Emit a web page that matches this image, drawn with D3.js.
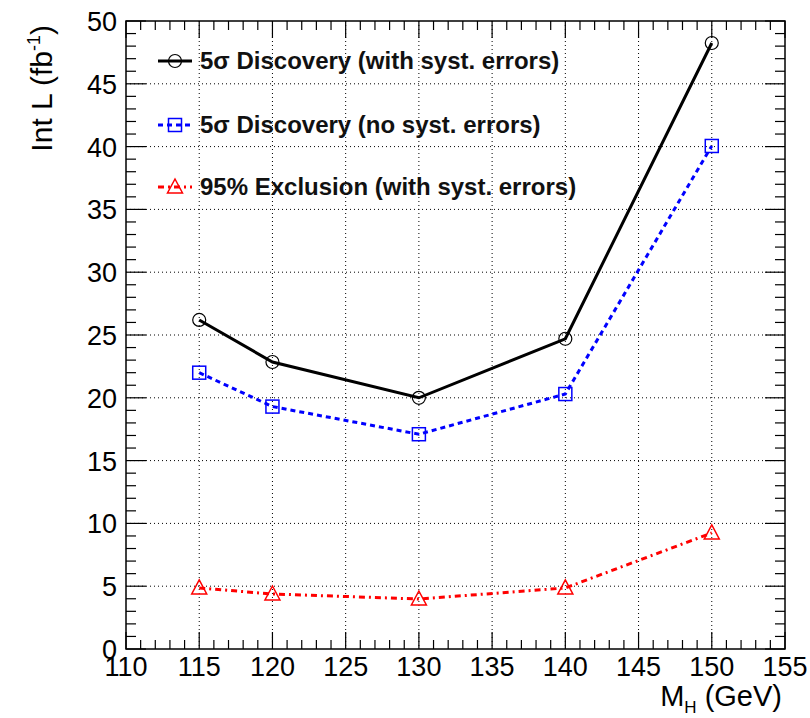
<!DOCTYPE html>
<html><head><meta charset="utf-8">
<script src="https://cdn.jsdelivr.net/npm/d3@7"></script>
<style>body{margin:0;background:#fff}svg{display:block}text{font-family:"Liberation Sans",Arial,sans-serif}</style>
</head><body>
<svg id="c" width="810" height="718"></svg>
<script>
const massPoints = [115, 120, 130, 140, 150];
const discWithSyst = [26.2, 22.85, 20.0, 24.7, 48.25];
const discNoSyst = [22.0, 19.3, 17.1, 20.3, 40.05];
const exclWithSyst = [4.86, 4.38, 3.98, 4.86, 9.24];
const xTicks = [110,115,120,125,130,135,140,145,150,155];
const yTicks = [0,5,10,15,20,25,30,35,40,45,50];
const legendLabels = ["5\u03c3 Discovery (with syst. errors)", "5\u03c3 Discovery (no syst. errors)", "95% Exclusion (with syst. errors)"];

const svg = d3.select("#c");
const L=126, R=785, T=21, B=649;
const x = d3.scaleLinear().domain([110,155]).range([L,R]);
const y = d3.scaleLinear().domain([0,50]).range([B,T]);

// grid
const g = svg.append("g");
g.selectAll(".gx").data(xTicks.filter(v=>v>110&&v<155)).enter().append("line")
 .attr("x1",d=>x(d)).attr("x2",d=>x(d)).attr("y1",T).attr("y2",B)
 .attr("stroke","#000").attr("stroke-width",1).attr("stroke-dasharray","1,3");
g.selectAll(".gy").data(yTicks.filter(v=>v>0&&v<50)).enter().append("line")
 .attr("y1",d=>y(d)).attr("y2",d=>y(d)).attr("x1",L).attr("x2",R)
 .attr("stroke","#000").attr("stroke-width",1).attr("stroke-dasharray","1,3");

// ticks
const xMinor = d3.range(110,156,1);
const yMinor = d3.range(0,51,1);
const tk = svg.append("g").attr("stroke","#000").attr("stroke-width",1.2);
xMinor.forEach(v=>{
  const len = v%5===0?17:9;
  tk.append("line").attr("x1",x(v)).attr("x2",x(v)).attr("y1",B).attr("y2",B-len);
  tk.append("line").attr("x1",x(v)).attr("x2",x(v)).attr("y1",T).attr("y2",T+len);
});
yMinor.forEach(v=>{
  const len = v%5===0?20:10;
  tk.append("line").attr("y1",y(v)).attr("y2",y(v)).attr("x1",L).attr("x2",L+len);
  tk.append("line").attr("y1",y(v)).attr("y2",y(v)).attr("x1",R).attr("x2",R-len);
});
svg.append("rect").attr("x",L).attr("y",T).attr("width",R-L).attr("height",B-T)
 .attr("fill","none").attr("stroke","#000").attr("stroke-width",1.5);

// tick labels
svg.selectAll(".xl").data(xTicks).enter().append("text")
 .attr("x",d=>x(d)).attr("y",B+27).attr("text-anchor","middle")
 .attr("font-size",27).text(d=>d);
svg.selectAll(".yl").data(yTicks).enter().append("text")
 .attr("x",L-9).attr("y",d=>y(d)+10).attr("text-anchor","end")
 .attr("font-size",27).text(d=>d);

// axis titles
const xt = svg.append("text").attr("x",R-3).attr("y",706).attr("text-anchor","end").attr("font-size",29);
xt.append("tspan").text("M");
xt.append("tspan").attr("font-size",17).attr("dy",7).text("H");
xt.append("tspan").attr("dy",-7).text(" (GeV)");
const yt = svg.append("text").attr("transform","translate(52,"+(T+4)+") rotate(-90)").attr("text-anchor","end").attr("font-size",30);
yt.append("tspan").text("Int L (fb");
yt.append("tspan").attr("font-size",18).attr("dy",-12).text("-1");
yt.append("tspan").attr("dy",12).text(")");

const line = d3.line().x((d,i)=>x(massPoints[i])).y(d=>y(d));
const series = [
  {vals:discWithSyst, color:"#000", dash:null, marker:"circle"},
  {vals:discNoSyst, color:"#0000ff", dash:"5,4", marker:"square"},
  {vals:exclWithSyst, color:"#ff0000", dash:"6,4,2,4", marker:"triangle"}
];
function marker(sel, type, color, cx, cy){
  if(type==="circle") sel.append("circle").attr("cx",cx).attr("cy",cy).attr("r",6.5).attr("fill","none").attr("stroke",color).attr("stroke-width",1.2);
  else if(type==="square") sel.append("rect").attr("x",cx-6.5).attr("y",cy-6.5).attr("width",13).attr("height",13).attr("fill","none").attr("stroke",color).attr("stroke-width",1.5);
  else sel.append("path").attr("d",`M${cx},${cy-8}L${cx+7.5},${cy+6}L${cx-7.5},${cy+6}Z`).attr("fill","none").attr("stroke",color).attr("stroke-width",1.5);
}
series.forEach(s=>{
  svg.append("path").attr("d",line(s.vals)).attr("fill","none").attr("stroke",s.color)
   .attr("stroke-width",3).attr("stroke-dasharray",s.dash);
  s.vals.forEach((v,i)=>marker(svg,s.marker,s.color,x(massPoints[i]),y(v)));
});

// legend
const legY = [61,125,187];
series.forEach((s,i)=>{
  svg.append("line").attr("x1",158).attr("x2",192).attr("y1",legY[i]).attr("y2",legY[i])
   .attr("stroke",s.color).attr("stroke-width",3).attr("stroke-dasharray",s.dash);
  marker(svg,s.marker,s.color,175,legY[i]);
  svg.append("text").attr("x",200).attr("y",legY[i]+8).attr("font-size",24).attr("font-weight","bold")
   .attr("fill","#111").text(legendLabels[i]);
});
</script>
</body></html>
